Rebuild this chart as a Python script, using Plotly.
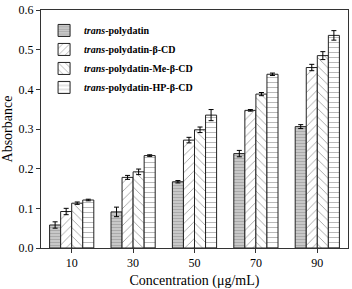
import plotly.graph_objects as go

categories = ["10", "30", "50", "70", "90"]
series_names = [
    "<b><i>trans</i>-polydatin</b>",
    "<b><i>trans</i>-polydatin-β-CD</b>",
    "<b><i>trans</i>-polydatin-Me-β-CD</b>",
    "<b><i>trans</i>-polydatin-HP-β-CD</b>",
]
polydatin = [0.058, 0.091, 0.167, 0.238, 0.306]
beta_cd = [0.092, 0.178, 0.272, 0.347, 0.455]
me_beta_cd = [0.113, 0.192, 0.298, 0.388, 0.485]
hp_beta_cd = [0.121, 0.233, 0.335, 0.438, 0.536]
err_polydatin = [0.008, 0.012, 0.003, 0.008, 0.005]
err_beta_cd = [0.008, 0.005, 0.007, 0.002, 0.008]
err_me_beta_cd = [0.003, 0.007, 0.007, 0.004, 0.010]
err_hp_beta_cd = [0.002, 0.002, 0.014, 0.003, 0.012]
y_ticks = [0.0, 0.1, 0.2, 0.3, 0.4, 0.5, 0.6]

values = [polydatin, beta_cd, me_beta_cd, hp_beta_cd]
errors = [err_polydatin, err_beta_cd, err_me_beta_cd, err_hp_beta_cd]
fills = ["#c8c8c8", "white", "white", "white"]
shapes = ["-", "/", "\\", "-"]
sizes = [3, 6, 6, 5]

fig = go.Figure()
for name, v, e, fc, sh, sz in zip(series_names, values, errors, fills, shapes, sizes):
    fig.add_trace(go.Bar(
        x=categories, y=v, name=name,
        error_y=dict(type="data", array=e, color="black", thickness=1, width=2.5),
        marker=dict(color=fc, line=dict(color="#222", width=1),
                    pattern=dict(shape=sh, size=sz, solidity=0.15, fgcolor="#444", bgcolor=fc)),
    ))

fig.update_layout(
    width=352, height=289,
    margin=dict(l=41, r=3, t=7, b=40),
    paper_bgcolor="white", plot_bgcolor="white",
    barmode="group", bargap=0.28, bargroupgap=0,
    font=dict(family="Liberation Serif", color="black", size=12),
    showlegend=True,
    legend=dict(x=0.01, y=0.975, xanchor="left", yanchor="top",
                bgcolor="rgba(0,0,0,0)", font=dict(size=10, family="Liberation Serif"),
                itemwidth=30, tracegroupgap=0),
    xaxis=dict(
        title=dict(text="Concentration (μg/mL)", font=dict(size=14), standoff=6),
        showline=True, linecolor="#333", linewidth=1, mirror=True,
        ticks="outside", ticklen=4, tickcolor="#333",
        tickfont=dict(size=12), showgrid=False,
    ),
    yaxis=dict(
        title=dict(text="Absorbance", font=dict(size=14), standoff=4),
        range=[0, 0.6], tickvals=y_ticks, tickformat=".1f",
        showline=True, linecolor="#333", linewidth=1, mirror=True,
        ticks="outside", ticklen=4, tickcolor="#333",
        tickfont=dict(size=12), showgrid=False, zeroline=False,
    ),
)

fig.write_html("out.html", config={"displayModeBar": False},
               post_script="document.body.style.margin='0';document.body.style.overflow='hidden';")
